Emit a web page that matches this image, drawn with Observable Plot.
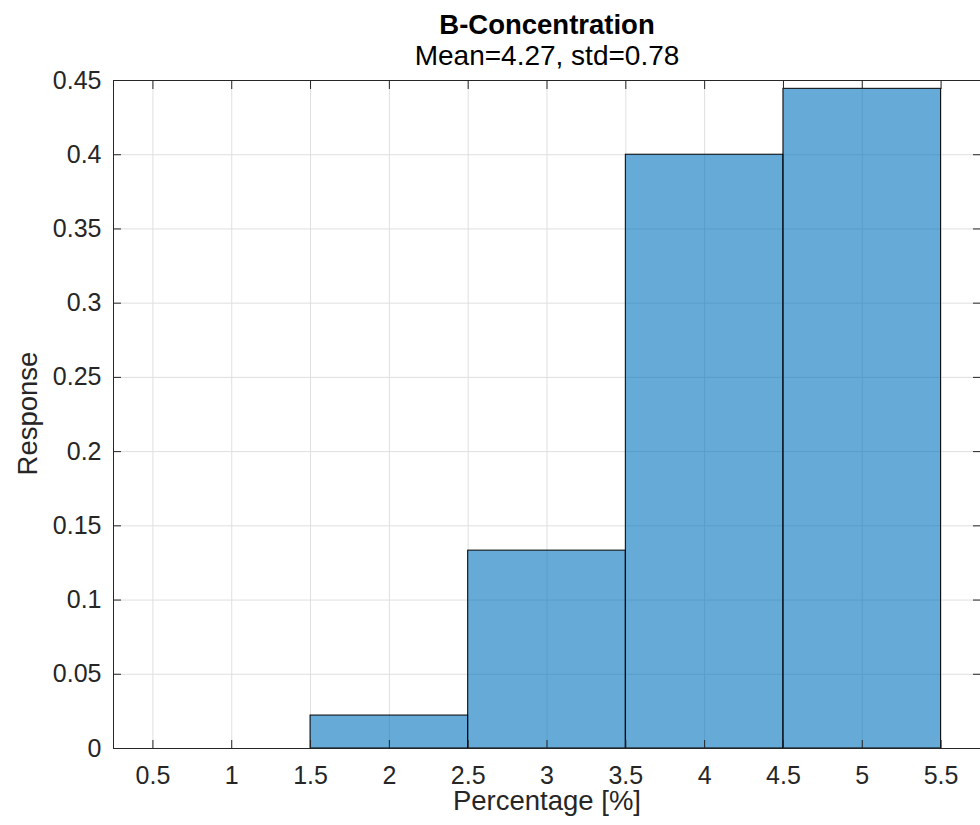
<!DOCTYPE html>
<html>
<head>
<meta charset="utf-8">
<script src="https://cdn.jsdelivr.net/npm/d3@7"></script>
<script src="https://cdn.jsdelivr.net/npm/@observablehq/plot@0.6"></script>
<style>
  html, body { margin: 0; padding: 0; background: #fff; }
  svg { display: block; }
</style>
</head>
<body>
<div id="chart"></div>
<script>
// Histogram data (normalized as probability)
const binStarts = [1.5, 2.5, 3.5, 4.5];
const binEnds   = [2.5, 3.5, 4.5, 5.5];
const responses = [0.0222, 0.1333, 0.4, 0.4444];
const xTicks = [0.5, 1, 1.5, 2, 2.5, 3, 3.5, 4, 4.5, 5, 5.5];
const yTicks = [0, 0.05, 0.1, 0.15, 0.2, 0.25, 0.3, 0.35, 0.4, 0.45];
const titleText = "B-Concentration";
const subtitleText = "Mean=4.27, std=0.78";
const xLabel = "Percentage [%]";
const yLabel = "Response";

const bins = binStarts.map((s, i) => ({x1: s, x2: binEnds[i], y: responses[i]}));
const font = "'Liberation Sans', Arial, Helvetica, sans-serif";
const ink = "#262626";

const chart = Plot.plot({
  width: 980,
  height: 825,
  marginLeft: 113,
  marginRight: 0,
  marginTop: 80,
  marginBottom: 77,
  style: {fontFamily: font, fontSize: "25px", color: ink, background: "#fff"},
  x: {domain: [0.25, 5.75], ticks: xTicks},
  y: {domain: [0, 0.45], ticks: yTicks},
  marks: [
    Plot.gridX(xTicks, {stroke: "#dfdfdf", strokeOpacity: 1, strokeWidth: 1}),
    Plot.gridY(yTicks, {stroke: "#dfdfdf", strokeOpacity: 1, strokeWidth: 1}),
    Plot.rectY(bins, {x1: "x1", x2: "x2", y: "y", fill: "#0072BD", fillOpacity: 0.6, stroke: "#000", strokeWidth: 1}),
    // tick labels
    Plot.axisX(xTicks, {anchor: "bottom", tickSize: 0, tickPadding: 18, label: null, fontSize: 25, fill: ink, tickFormat: d => String(d)}),
    Plot.axisY(yTicks, {anchor: "left", tickSize: 0, tickPadding: 12, label: null, fontSize: 25, fill: ink, tickFormat: d => String(d)}),
    // inward tick marks on all four sides
    Plot.axisX(xTicks, {anchor: "bottom", tickSize: -8, fill: "none", label: null, stroke: ink}),
    Plot.axisX(xTicks, {anchor: "top", tickSize: -8, fill: "none", label: null, stroke: ink}),
    Plot.axisY(yTicks, {anchor: "left", tickSize: -8, fill: "none", label: null, stroke: ink}),
    Plot.axisY(yTicks, {anchor: "right", tickSize: -8, fill: "none", label: null, stroke: ink}),
    Plot.frame({stroke: ink, strokeWidth: 1}),
    // titles and axis labels
    Plot.text([titleText], {frameAnchor: "top", lineAnchor: "middle", textAnchor: "middle", dy: -55, fontSize: 27.5, fontWeight: "bold", fill: "#000"}),
    Plot.text([subtitleText], {frameAnchor: "top", lineAnchor: "middle", textAnchor: "middle", dy: -24, fontSize: 28, fill: "#000"}),
    Plot.text([xLabel], {frameAnchor: "bottom", lineAnchor: "middle", textAnchor: "middle", dy: 53, fontSize: 27.5, fill: ink}),
    Plot.text([yLabel], {frameAnchor: "left", lineAnchor: "middle", textAnchor: "middle", dx: -85, dy: -1, rotate: -90, fontSize: 27.5, fill: ink})
  ]
});
document.getElementById("chart").appendChild(chart);
</script>
</body>
</html>
